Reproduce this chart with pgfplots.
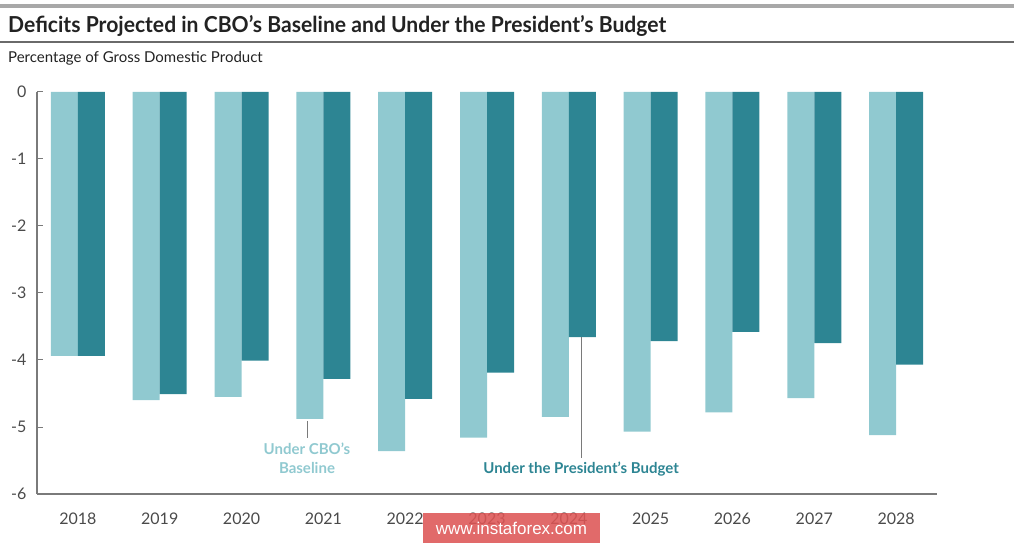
\documentclass[border=0pt]{standalone}
\usepackage{pgfplots}
\pgfplotsset{compat=1.18}
\usepackage{fontspec}
\setmainfont{Lato}
\newfontfamily\titlefont[FakeStretch=0.96]{Lato}
\newfontfamily\wmfont{Liberation Sans}
\definecolor{lightbar}{HTML}{90C9D0}
\definecolor{darkbar}{HTML}{2D8593}
\definecolor{ticktxt}{HTML}{4A4A4A}
\definecolor{titletxt}{HTML}{222222}
\definecolor{topbar}{HTML}{A8A8A8}
\definecolor{ruleline}{HTML}{6A6A6A}
\definecolor{axisline}{HTML}{7A7A7A}
\definecolor{wm}{HTML}{DD5555}
\begin{document}
\begin{tikzpicture}[x=1pt,y=1pt]
\useasboundingbox (0,0) rectangle (1023,544);
\fill[topbar] (0,536) rectangle (1014,539.5);
\draw[ruleline, line width=2pt] (0,502) -- (1014,502);
\node[anchor=base west, inner sep=0pt, text=titletxt, font=\titlefont\bfseries\fontsize{22}{26}\selectfont] at (8,511) {Deficits Projected in CBO’s Baseline and Under the President’s Budget};
\node[anchor=base west, inner sep=0pt, text=titletxt, font=\fontsize{15}{18}\selectfont] at (8,481) {Percentage of Gross Domestic Product};
\begin{axis}[
  at={(37pt,50pt)}, anchor=south west,
  scale only axis, width=900pt, height=402pt,
  xmin=-0.5, xmax=10.5, ymin=-6, ymax=0,
  axis x line*=bottom, axis y line*=left,
  axis line style={axisline, line width=1.2pt, -},
  xtick={0,...,10},
  xticklabels={2018,2019,2020,2021,2022,2023,2024,2025,2026,2027,2028},
  xtick style={draw=none},
  ytick={-6,-5,-4,-3,-2,-1,0},
  yticklabels={-6,-5,-4,-3,-2,-1,0},
  ytick style={axisline, line width=1pt},
  tick align=inside, major tick length=6pt,
  xticklabel style={text=ticktxt, font=\fontsize{16}{18}\selectfont, yshift=-9pt},
  yticklabel style={text=ticktxt, font=\fontsize{16}{18}\selectfont, xshift=-7pt},
  ybar, bar width=27pt,
  clip=false,
]
\addplot[fill=lightbar, draw=none, bar shift=-13.5pt] coordinates {
(0,-3.94) (1,-4.60) (2,-4.55) (3,-4.88) (4,-5.36) (5,-5.16) (6,-4.85) (7,-5.07) (8,-4.78) (9,-4.57) (10,-5.12)};
\addplot[fill=darkbar, draw=none, bar shift=13.5pt] coordinates {
(0,-3.94) (1,-4.51) (2,-4.01) (3,-4.28) (4,-4.58) (5,-4.19) (6,-3.66) (7,-3.72) (8,-3.58) (9,-3.75) (10,-4.07)};
\draw[axisline, line width=1pt] (axis cs:2.80,-4.91) -- (axis cs:2.80,-5.16);
\node[text=lightbar, align=center, font=\bfseries\fontsize{15}{19}\selectfont] at (axis cs:2.80,-5.47) {Under CBO's\\Baseline};
\draw[axisline, line width=1pt] (axis cs:6.15,-3.66) -- (axis cs:6.15,-5.46);
\node[text=darkbar, font=\bfseries\fontsize{15}{19}\selectfont] at (axis cs:6.15,-5.63) {Under the President’s Budget};
\end{axis}
\fill[wm, opacity=0.88] (423,1) rectangle (600,31);
\node[text=white, font=\wmfont\fontsize{17}{20}\selectfont] at (511.5,16) {www.instaforex.com};
\end{tikzpicture}
\end{document}
